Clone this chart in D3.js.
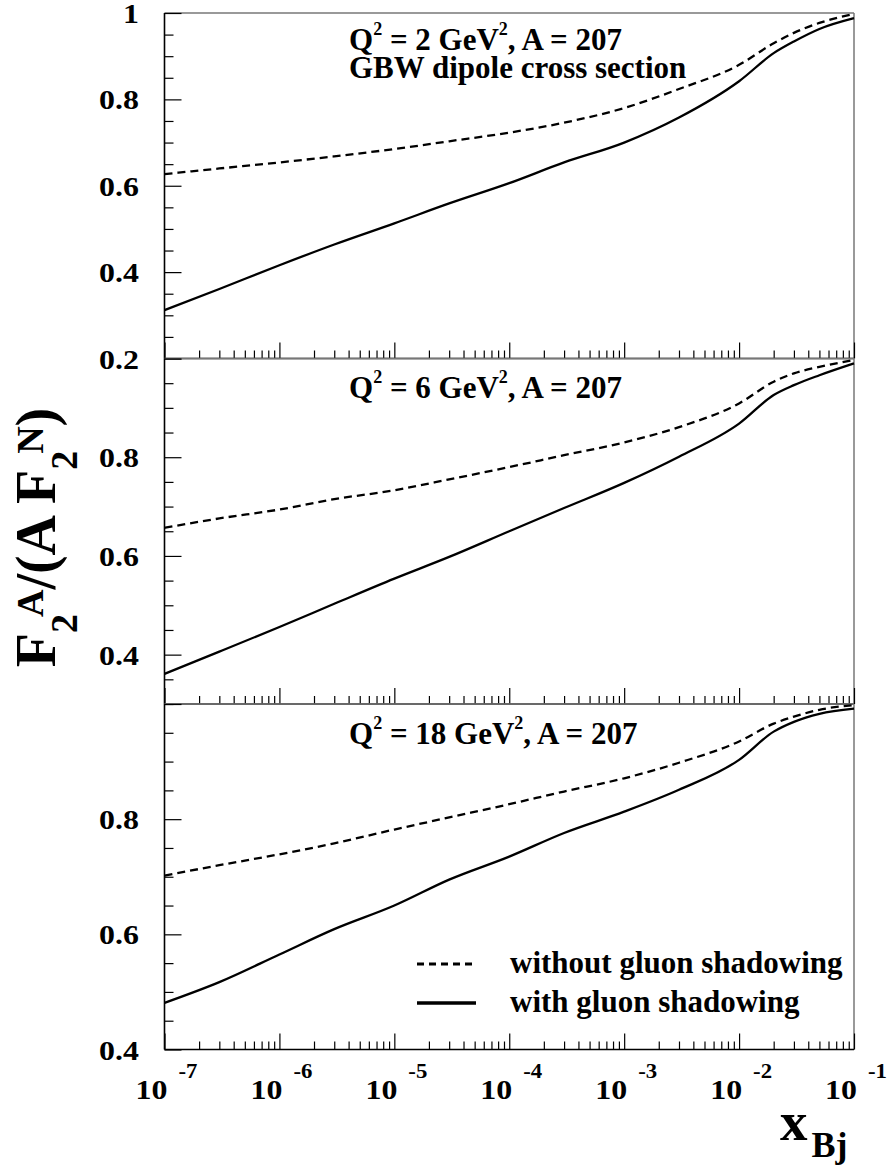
<!DOCTYPE html>
<html><head><meta charset="utf-8">
<script src="https://cdn.jsdelivr.net/npm/d3@7"></script>
<style>body{margin:0;background:#fff} svg{display:block}</style>
</head><body><svg id="c" width="894" height="1167"></svg>
<script>
// ---- data ----
const xBj = [1e-7, 3e-7, 1e-6, 3e-6, 1e-5, 3e-5, 1e-4, 3e-4, 1e-3, 3e-3, 1e-2, 2e-2, 3e-2, 5e-2, 1e-1];

const noGluon_Q2_2  = [0.627, 0.640, 0.654, 0.668, 0.685, 0.703, 0.723, 0.746, 0.780, 0.824, 0.880, 0.930, 0.954, 0.977, 0.998];
const gluon_Q2_2    = [0.312, 0.361, 0.416, 0.464, 0.513, 0.559, 0.606, 0.654, 0.700, 0.758, 0.842, 0.907, 0.934, 0.963, 0.988];

const noGluon_Q2_6  = [0.657, 0.676, 0.694, 0.715, 0.733, 0.755, 0.780, 0.804, 0.830, 0.861, 0.909, 0.953, 0.970, 0.983, 0.997];
const gluon_Q2_6    = [0.361, 0.406, 0.456, 0.503, 0.554, 0.598, 0.650, 0.697, 0.748, 0.801, 0.868, 0.926, 0.946, 0.966, 0.990];

const noGluon_Q2_18 = [0.702, 0.720, 0.739, 0.758, 0.782, 0.803, 0.826, 0.848, 0.871, 0.898, 0.935, 0.966, 0.978, 0.990, 0.998];
const gluon_Q2_18   = [0.481, 0.517, 0.565, 0.609, 0.650, 0.695, 0.735, 0.776, 0.813, 0.851, 0.903, 0.952, 0.969, 0.983, 0.992];

const q2Values = ["2", "6", "18"];
const yDomains = [[0.2, 1.0], [0.3, 1.0], [0.4, 1.0]];
const yTickLabels = [[0.2, 0.4, 0.6, 0.8, 1], [0.4, 0.6, 0.8], [0.4, 0.6, 0.8]];
const xDecades = [-7, -6, -5, -4, -3, -2, -1];
const legendLabels = ["without gluon shadowing", "with gluon shadowing"];

const panels = [
  {q2: q2Values[0], no: noGluon_Q2_2,  yes: gluon_Q2_2,  dom: yDomains[0], labels: yTickLabels[0], extra: "GBW dipole cross section", ty: 37},
  {q2: q2Values[1], no: noGluon_Q2_6,  yes: gluon_Q2_6,  dom: yDomains[1], labels: yTickLabels[1], ty: 39},
  {q2: q2Values[2], no: noGluon_Q2_18, yes: gluon_Q2_18, dom: yDomains[2], labels: yTickLabels[2], ty: 40, legend: true}
];

// ---- layout ----
const FONT = "'Liberation Serif','Times New Roman',Times,serif";
const L = 164.5, R = 854;
const tops = [13, 358.5, 704], PH = 345.5;
const svg = d3.select("#c");
const x = d3.scaleLog().domain([1e-7, 1e-1]).range([L, R]);

const majorX = xDecades.map(d => Math.pow(10, d));
const minorX = [];
xDecades.slice(0, -1).forEach(d => { for (let m = 2; m <= 9; m++) minorX.push(m * Math.pow(10, d)); });

panels.forEach((p, i) => {
  const top = tops[i], bot = top + PH;
  const y = d3.scaleLinear().domain(p.dom).range([bot, top]);
  const g = svg.append("g");

  // frame (grey top/right)
  g.append("line").attr("x1", L).attr("x2", R).attr("y1", top).attr("y2", top)
    .attr("stroke", "#777").attr("stroke-width", 1.5);
  g.append("line").attr("x1", R).attr("x2", R).attr("y1", top).attr("y2", bot)
    .attr("stroke", "#777").attr("stroke-width", 1.5);

  // x ticks (inward)
  const axMaj = d3.axisBottom(x).tickValues(majorX).tickSize(-16).tickSizeOuter(0).tickFormat("");
  const axMin = d3.axisBottom(x).tickValues(minorX).tickSize(-8).tickSizeOuter(0).tickFormat("");
  [axMaj, axMin].forEach(ax => {
    const a = g.append("g").attr("transform", `translate(0,${bot})`).call(ax);
    a.select(".domain").remove();
    a.selectAll("line").attr("stroke", "#000").attr("stroke-width", 1.2);
  });

  // y ticks (inward)
  const lo = p.dom[0], hi = p.dom[1];
  const all = d3.range(Math.round(lo / 0.05), Math.round(hi / 0.05) + 1).map(k => +(k * 0.05).toFixed(2));
  const majY = all.filter(v => Math.abs(v / 0.2 - Math.round(v / 0.2)) < 1e-6);
  const minY = all.filter(v => !majY.includes(v));
  const ayMaj = d3.axisLeft(y).tickValues(majY).tickSize(-17).tickSizeOuter(0).tickFormat("");
  const ayMin = d3.axisLeft(y).tickValues(minY).tickSize(-9).tickSizeOuter(0).tickFormat("");
  [ayMaj, ayMin].forEach(ax => {
    const a = g.append("g").attr("transform", `translate(${L},0)`).call(ax);
    a.select(".domain").remove();
    a.selectAll("line").attr("stroke", "#000").attr("stroke-width", 1.2);
  });

  // axis lines
  g.append("line").attr("x1", L).attr("x2", R).attr("y1", bot).attr("y2", bot)
    .attr("stroke", "#000").attr("stroke-width", 1.6);
  g.append("line").attr("x1", L).attr("x2", L).attr("y1", top).attr("y2", bot)
    .attr("stroke", "#000").attr("stroke-width", 1.6);

  // y tick labels
  p.labels.forEach(v => {
    g.append("text").attr("transform", `translate(139,${y(v) + 10}) scale(1.14,1)`)
      .attr("text-anchor", "end").attr("font-family", FONT).attr("font-weight", "bold")
      .attr("font-size", 28).text(String(v));
  });

  // curves
  const line = d3.line().x((d, k) => x(xBj[k])).y(d => y(d)).curve(d3.curveMonotoneX);
  g.append("path").attr("d", line(p.no)).attr("fill", "none").attr("stroke", "#000")
    .attr("stroke-width", 2.3).attr("stroke-dasharray", "8,5");
  g.append("path").attr("d", line(p.yes)).attr("fill", "none").attr("stroke", "#000")
    .attr("stroke-width", 2.3);

  // annotation
  const t = g.append("text").attr("x", 349).attr("y", top + p.ty)
    .attr("font-family", FONT).attr("font-weight", "bold").attr("font-size", 31);
  t.append("tspan").text("Q");
  t.append("tspan").attr("font-size", 18).attr("dy", -15).text("2");
  t.append("tspan").attr("dy", 15).text(` = ${p.q2} GeV`);
  t.append("tspan").attr("font-size", 18).attr("dy", -15).text("2");
  t.append("tspan").attr("dy", 15).text(", A = 207");
  if (p.extra) {
    g.append("text").attr("x", 349).attr("y", top + 65)
      .attr("font-family", FONT).attr("font-weight", "bold").attr("font-size", 31).text(p.extra);
  }

  // legend
  if (p.legend) {
    const ly = [964, 1003];
    g.append("line").attr("x1", 417).attr("x2", 476).attr("y1", ly[0]).attr("y2", ly[0])
      .attr("stroke", "#000").attr("stroke-width", 3).attr("stroke-dasharray", "7,5");
    g.append("line").attr("x1", 417).attr("x2", 476).attr("y1", ly[1]).attr("y2", ly[1])
      .attr("stroke", "#000").attr("stroke-width", 3.5);
    legendLabels.forEach((s, k) => {
      g.append("text").attr("x", 510).attr("y", ly[k] + 9)
        .attr("font-family", FONT).attr("font-weight", "bold").attr("font-size", 31).text(s);
    });
  }
});

// x tick labels (bottom panel only)
xDecades.forEach(d => {
  const gx = svg.append("g").attr("transform", `translate(${x(Math.pow(10, d))},0)`);
  gx.append("text").attr("transform", `translate(3,1099) scale(1.14,1)`).attr("text-anchor", "end")
    .attr("font-family", FONT).attr("font-weight", "bold").attr("font-size", 28).text("10");
  gx.append("text").attr("transform", `translate(14,1078) scale(1.14,1)`)
    .attr("font-family", FONT).attr("font-weight", "bold").attr("font-size", 20).text(String(d));
});

// x axis title
const xt = svg.append("text").attr("x", 780).attr("y", 1140)
  .attr("font-family", FONT).attr("font-weight", "bold").attr("font-size", 55);
xt.append("tspan").text("x");
xt.append("tspan").attr("font-size", 36).attr("dx", 4).attr("dy", 17).text("Bj");

// y axis title
const yt = svg.append("text").attr("transform", "translate(55,537.5) rotate(-90)")
  .attr("text-anchor", "middle").attr("font-family", FONT).attr("font-weight", "bold").attr("font-size", 56);
yt.append("tspan").text("F");
yt.append("tspan").attr("font-size", 38).attr("dy", 22).text("2");
yt.append("tspan").attr("font-size", 38).attr("dx", -3).attr("dy", -34).text("A");
yt.append("tspan").attr("dy", 12).text("/(A F");
yt.append("tspan").attr("font-size", 38).attr("dy", 22).text("2");
yt.append("tspan").attr("font-size", 38).attr("dx", -3).attr("dy", -34).text("N");
yt.append("tspan").attr("dy", 12).text(")");
</script>
</body></html>
